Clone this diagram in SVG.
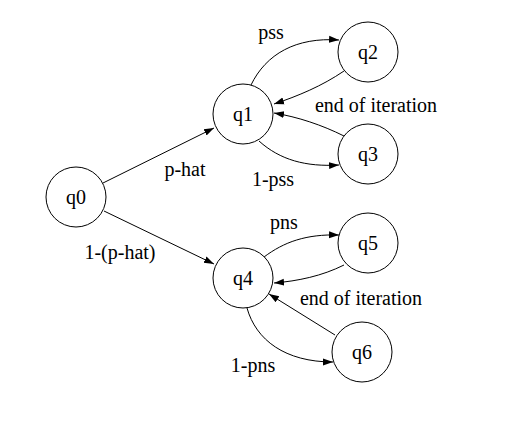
<svg xmlns="http://www.w3.org/2000/svg" width="519" height="424" viewBox="0 0 519 424">
<style>
.node circle{fill:#fff;stroke:#000;stroke-width:1}
text{font-family:"Liberation Serif","Times New Roman",serif;font-size:20px;fill:#000;text-anchor:middle}
.edges path{fill:none;stroke:#000;stroke-width:1;marker-end:url(#arr)}
</style>
<defs>
<marker id="arr" viewBox="0 0 10 10" refX="10" refY="5" markerWidth="10" markerHeight="10" markerUnits="userSpaceOnUse" orient="auto">
<path d="M0,1.5 L10,5 L0,8.5 Z" fill="#000"/>
</marker>
</defs>
<rect width="519" height="424" fill="#fff"/>
<g id="connectors" class="edges">
<path d="M103,183 L214,128"/>
<path d="M104,211 L214,264"/>
<path d="M251,85 C266,54 296,37 339,40"/>
<path d="M344,71 C322,86 298,96 274,104"/>
<path d="M344,136 C322,125 298,117 274,113"/>
<path d="M259,141 C280,160 306,167 339,165"/>
<path d="M264,257 C284,242 306,234 339,235"/>
<path d="M344,265 C322,276 298,281 274,283"/>
<path d="M335,335 L269,294"/>
<path d="M247,308 C256,340 285,362 333,362"/>
</g>
<g id="q0" class="node"><circle cx="76" cy="197" r="30"/><text x="76" y="204">q0</text></g>
<g id="q1" class="node"><circle cx="243" cy="114" r="30"/><text x="243" y="121">q1</text></g>
<g id="q2" class="node"><circle cx="368" cy="52" r="30"/><text x="368" y="59">q2</text></g>
<g id="q3" class="node"><circle cx="368" cy="154" r="30"/><text x="368" y="161">q3</text></g>
<g id="q4" class="node"><circle cx="243" cy="278" r="30"/><text x="243" y="285">q4</text></g>
<g id="q5" class="node"><circle cx="368" cy="243" r="30"/><text x="368" y="250">q5</text></g>
<g id="q6" class="node"><circle cx="362" cy="352" r="30"/><text x="362" y="359">q6</text></g>
<g id="labels">
<text x="185" y="176">p-hat</text>
<text x="120" y="259">1-(p-hat)</text>
<text x="271" y="39">pss</text>
<text x="376" y="112">end of iteration</text>
<text x="273" y="186">1-pss</text>
<text x="284" y="229">pns</text>
<text x="361" y="305">end of iteration</text>
<text x="253" y="372">1-pns</text>
</g>
</svg>
